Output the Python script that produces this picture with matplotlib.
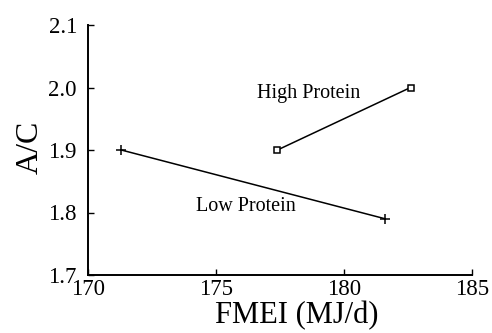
import matplotlib
matplotlib.use("Agg")
import matplotlib.pyplot as plt

low_x = [171.3, 181.6]
low_y = [1.90, 1.79]
high_x = [177.4, 182.6]
high_y = [1.90, 2.00]
x_ticks = [170, 175, 180, 185]
y_ticks = [1.7, 1.8, 1.9, 2.0, 2.1]

plt.rcParams['font.family'] = ['Liberation Serif', 'DejaVu Serif']

fig = plt.figure(figsize=(4.92, 3.33), dpi=100)
ax = fig.add_axes([88/492, 1-275/333, (472-88)/492, (275-25)/333])

ax.plot(low_x, low_y, color='black', lw=1.1, marker='+', ms=7, mew=1.1)
ax.plot(high_x, high_y, color='black', lw=1.1, marker='s', ms=4.5, mfc='white', mew=1.1)

ax.text(176.6, 1.99, 'High Protein', fontsize=14.5, va='center', ha='left')
ax.text(174.2, 1.81, 'Low Protein', fontsize=14.5, va='center', ha='left')

ax.set_xlim(170, 185)
ax.set_ylim(1.7, 2.1)
ax.set_xticks(x_ticks)
ax.set_yticks(y_ticks)
ax.set_xticklabels([str(t) for t in x_ticks])
ax.set_yticklabels([f'{t:.1f}' for t in y_ticks])
ax.tick_params(axis='both', direction='in', length=4, width=1, labelsize=16.5)
ax.tick_params(axis='y', pad=8)
ax.tick_params(axis='x', pad=3)
for s in ['top', 'right']:
    ax.spines[s].set_visible(False)
for s in ['left', 'bottom']:
    ax.spines[s].set_linewidth(1.4)

ax.set_xlabel('FMEI (MJ/d)', fontsize=22)
ax.xaxis.set_label_coords(0.544, -0.105)
ax.set_ylabel('A/C', fontsize=23)
ax.yaxis.set_label_coords(-0.112, 0.512)

fig.savefig('out.png', dpi=100)
